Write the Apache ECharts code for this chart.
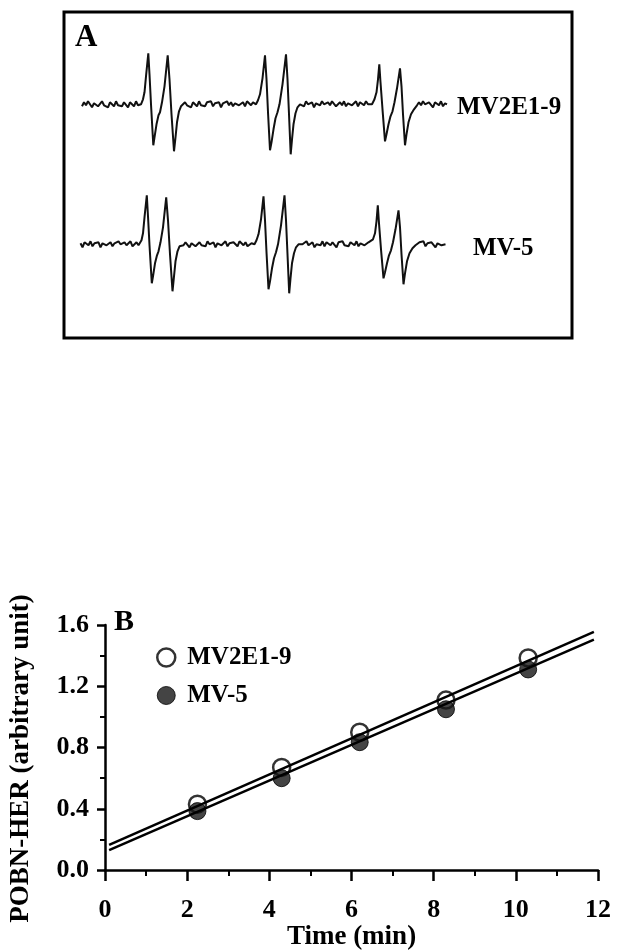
<!DOCTYPE html>
<html>
<head>
<meta charset="utf-8">
<title>POBN-HER</title>
<script src="https://cdn.jsdelivr.net/npm/echarts@6/dist/echarts.min.js"></script>
<style>
  html, body { margin: 0; padding: 0; background: #fff; }
  #chart { width: 617px; height: 952px; }
</style>
</head>
<body>
<div id="chart"></div>
<script>
(function () {
  'use strict';

  var FONT = '"Liberation Serif", "Times New Roman", serif';

  // --- panel A: EPR spectra (field position in arbitrary units, signal relative to baseline)
  var fieldPos = [
    18, 20, 22, 24, 26, 28, 30, 32, 34, 36, 38, 40, 42, 44, 46, 48, 50, 52, 54, 56, 58, 60, 62, 64, 66, 68, 70, 72, 74, 76,
    77, 79, 80.5, 82, 84.3, 85.5, 87, 89.3, 90.5, 92.5, 94.5, 96, 98, 100.5, 103.7, 105.5, 107.5, 110, 111.5, 113, 115, 117, 119,
    121, 123, 125, 127, 129, 131, 133, 135, 137, 139, 141, 143, 145, 147, 149, 151, 153, 155, 157, 159, 161, 163, 165, 167, 169, 171, 173, 175, 177, 179, 181, 183, 185, 187, 189, 191,
    192, 194, 196, 198.5, 201, 202.5, 204, 206, 207.5, 209.5, 211.5, 213.5, 215.5, 218.5, 222, 223.5, 225, 226.7, 228, 229.5, 231.5, 233.5, 236,
    238, 240, 242, 244, 246, 248, 250, 252, 254, 256, 258, 260, 262, 264, 266, 268, 270, 272, 274, 276, 278, 280, 282, 284, 286, 288, 290, 292, 294, 296, 298, 300, 302, 304, 306,
    308, 310.5, 312.5, 314, 315.3, 316.5, 318.5, 321, 322.5, 324.5, 326.5, 328.5, 330.5, 333, 336, 337.5, 339, 341, 342.5, 344.5, 347, 350, 353,
    355, 357, 359, 361, 363, 365, 367, 369, 371, 373, 375, 377, 379, 381, 383
  ];
  var signalMV2E1 = [
    -2, 2, -1, 3, 0, -3, 1, 2, -2, 0, 3, -1, 1, -3, 2, 0, -2, 3, -1, 1, -2, 2, 0, -3, 2, 1, -2, 3, -1, 1,
    0, 5, 12, 28, 51, 30, 0, -41, -33, -20, -11, -8, 2, 18, 49, 25, -10, -47, -33, -18, -7, -2, 0,
    2, -1, 1, -3, 2, 0, -2, 3, -1, 1, -2, 2, 0, 3, -2, 1, -1, 2, -3, 1, 0, 3, -1, 2, -2, 1, 3, -1, 0, 2, -2, 3, 1, -1, 2, 0,
    0, 4, 10, 26, 49, 25, -8, -46, -38, -25, -14, -8, 0, 20, 50, 25, -10, -50, -35, -20, -9, -3, 0,
    1, -2, 3, 0, -1, 2, -3, 1, 2, -1, 3, 0, -2, 2, -1, 3, 1, -2, 0, 2, -1, 3, -2, 1, 2, -1, 0, 3, -2, 2, 1, -1, 3, 0, 1,
    0, 5, 12, 25, 40, 22, -5, -37, -30, -20, -12, -7, 2, 16, 36, 18, -10, -41, -30, -18, -10, -5, -1,
    2, -1, 3, 0, -2, 2, 1, -3, 2, 0, -1, 3, -2, 1, 0
  ];
  var signalMV5 = [
    1, -3, 2, 0, -1, 3, -2, 1, 0, 2, -3, 1, 3, -1, 0, 2, -2, 1, -1, 3, 0, -2, 2, -1, 1, 3, -2, 0, 2, -1,
    0, 4, 11, 27, 49, 28, -1, -39, -32, -19, -11, -7, 2, 17, 47, 24, -10, -47, -32, -17, -7, -2, 0,
    -1, 2, 0, -3, 1, 3, -2, 0, 2, -1, 1, -2, 3, 0, -1, 2, -3, 1, 2, -1, 0, 3, -2, 1, -1, 2, 0, -2, 3, 1, -1, 2, -2, 0, 1, -1,
    0, 4, 10, 25, 48, 24, -8, -45, -37, -24, -14, -8, 0, 19, 49, 24, -10, -49, -34, -19, -9, -3, 0,
    2, 0, -2, 3, -1, 1, 2, -3, 0, 1, -1, 3, -2, 2, 0, -1, 2, 1, -3, 2, 0, 3, -1, 1, -2, 2, 0, -1, 3, -2, 1, 2, -1, 0, 2,
    0, 5, 11, 23, 39, 21, -5, -34, -28, -19, -11, -6, 2, 15, 34, 17, -10, -40, -29, -17, -9, -4, -1,
    -1, 2, 0, 3, -2, 1, -1, 2, 0, -3, 1, 2, -1, 1, 0
  ];

  // --- panel B: POBN-HER vs time
  var seriesNames = ['MV2E1-9', 'MV-5'];
  var timeMin = [2.25, 4.3, 6.2, 8.3, 10.3];
  var herMV2E1 = [0.43, 0.67, 0.9, 1.11, 1.385];
  var herMV5 = [0.385, 0.6, 0.835, 1.05, 1.31];
  var fitTime = [0.1, 11.9];
  var fitMV2E1 = [0.165, 1.555];
  var fitMV5 = [0.13, 1.505];

  function zip(xs, ys) {
    var out = [];
    for (var i = 0; i < xs.length; i++) out.push([xs[i], ys[i]]);
    return out;
  }

  var labelStyle = { fontFamily: FONT, fontWeight: 'bold', fontSize: 25, color: '#000' };
  var nameStyle = { fontFamily: FONT, fontWeight: 'bold', fontSize: 27, color: '#000' };

  var myChart = echarts.init(document.getElementById('chart'));

  var option = {
    animation: false,
    backgroundColor: '#fff',
    grid: [
      { left: 99, top: 625, width: 499, height: 246 },
      { left: 64, top: 44.3, width: 400, height: 120 },
      { left: 62.5, top: 184.3, width: 400, height: 120 }
    ],
    xAxis: [{
      type: 'value', gridIndex: 0, min: 0, max: 12, interval: 2,
      name: 'Time (min)', nameLocation: 'middle', nameGap: 45,
      nameTextStyle: nameStyle,
      axisLine: { lineStyle: { color: '#000', width: 2.5 } },
      axisTick: { length: 11, lineStyle: { color: '#000', width: 2.5 } },
      minorTick: { show: true, splitNumber: 2, length: 6, lineStyle: { color: '#000', width: 2 } },
      axisLabel: { margin: 27, fontFamily: FONT, fontWeight: 'bold', fontSize: 26, color: '#000' },
      splitLine: { show: false }
    }, {
      type: 'value', gridIndex: 1, min: 0, max: 400, show: false
    }, {
      type: 'value', gridIndex: 2, min: 0, max: 400, show: false
    }],
    yAxis: [{
      type: 'value', gridIndex: 0, min: 0, max: 1.6, interval: 0.4,
      name: 'POBN-HER (arbitrary unit)', nameLocation: 'middle', nameGap: 70,
      nameTextStyle: Object.assign({ padding: [0, 22, 0, 0] }, nameStyle),
      axisLine: { lineStyle: { color: '#000', width: 2.5 } },
      axisTick: { length: 8, lineStyle: { color: '#000', width: 2.5 } },
      minorTick: { show: true, splitNumber: 2, length: 5, lineStyle: { color: '#000', width: 2 } },
      axisLabel: {
        margin: 16, fontFamily: FONT, fontWeight: 'bold', fontSize: 26, color: '#000',
        formatter: function (v) { return v.toFixed(1); }
      },
      splitLine: { show: false }
    }, {
      type: 'value', gridIndex: 1, min: -60, max: 60, show: false
    }, {
      type: 'value', gridIndex: 2, min: -60, max: 60, show: false
    }],
    legend: {
      orient: 'vertical', left: 151, top: 640, itemWidth: 32, itemHeight: 18, itemGap: 13,
      textStyle: labelStyle,
      data: [
        { name: seriesNames[0], icon: 'circle', itemStyle: { color: '#fff', borderColor: '#000', borderWidth: 2.5 } },
        { name: seriesNames[1], icon: 'circle', itemStyle: { color: '#151515', borderColor: '#000', borderWidth: 1 } }
      ]
    },
    graphic: [
      { type: 'rect', shape: { x: 64, y: 12, width: 508, height: 326 },
        style: { fill: 'none', stroke: '#000', lineWidth: 3 } },
      { type: 'text', left: 75, top: 22,
        style: { text: 'A', font: 'bold 31px ' + FONT, fill: '#000' } },
      { type: 'text', left: 114, top: 607,
        style: { text: 'B', font: 'bold 30px ' + FONT, fill: '#000' } },
      { type: 'text', x: 457, y: 108,
        style: { text: seriesNames[0], font: 'bold 25px ' + FONT, fill: '#000', verticalAlign: 'middle' } },
      { type: 'text', x: 473, y: 249,
        style: { text: seriesNames[1], font: 'bold 25px ' + FONT, fill: '#000', verticalAlign: 'middle' } }
    ],
    series: [{
      name: seriesNames[0], type: 'scatter', xAxisIndex: 0, yAxisIndex: 0, z: 2,
      symbol: 'circle', symbolSize: 17,
      itemStyle: { color: '#fff', borderColor: '#000', borderWidth: 2.5 },
      data: zip(timeMin, herMV2E1)
    }, {
      name: seriesNames[1], type: 'scatter', xAxisIndex: 0, yAxisIndex: 0, z: 3,
      symbol: 'circle', symbolSize: 17,
      itemStyle: { color: '#151515', borderColor: '#000', borderWidth: 1 },
      data: zip(timeMin, herMV5)
    }, {
      name: 'fit ' + seriesNames[0], type: 'line', xAxisIndex: 0, yAxisIndex: 0, z: 4,
      showSymbol: false, silent: true,
      lineStyle: { color: '#000', width: 2.5 },
      data: zip(fitTime, fitMV2E1)
    }, {
      name: 'fit ' + seriesNames[1], type: 'line', xAxisIndex: 0, yAxisIndex: 0, z: 4,
      showSymbol: false, silent: true,
      lineStyle: { color: '#000', width: 2.5 },
      data: zip(fitTime, fitMV5)
    }, {
      name: 'EPR ' + seriesNames[0], type: 'line', xAxisIndex: 1, yAxisIndex: 1,
      showSymbol: false, silent: true,
      lineStyle: { color: '#111', width: 2 },
      data: zip(fieldPos, signalMV2E1)
    }, {
      name: 'EPR ' + seriesNames[1], type: 'line', xAxisIndex: 2, yAxisIndex: 2,
      showSymbol: false, silent: true,
      lineStyle: { color: '#111', width: 2 },
      data: zip(fieldPos, signalMV5)
    }]
  };

  myChart.setOption(option);
})();
</script>
</body>
</html>
